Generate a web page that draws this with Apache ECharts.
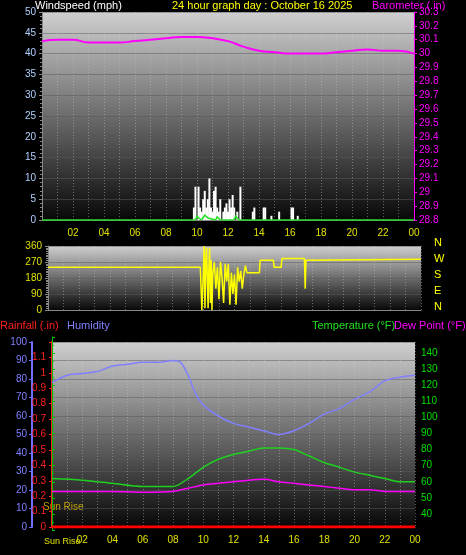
<!DOCTYPE html><html><head><meta charset="utf-8">
<script src="https://cdn.jsdelivr.net/npm/echarts@6/dist/echarts.min.js"></script>
<style>body{margin:0;background:#000}#c{width:466px;height:555px}</style></head><body><div id="c"></div>
<script>
const baroT=[0,1,2,3,4,5,6,7,8,9,10,11,12,13,14,15,16,17,18,19,20,21,22,23,24];
const baroV=[30.09,30.1,30.1,30.08,30.08,30.08,30.09,30.1,30.11,30.12,30.12,30.11,30.09,30.05,30.02,30.01,30.0,30.0,30.0,30.01,30.02,30.03,30.02,30.02,30.0];
const gustT=[9.8,9.9,10.1,10.2,10.3,10.4,10.5,10.6,10.7,10.8,10.9,11.0,11.1,11.2,11.3,11.4,11.5,11.7,11.8,11.9,12.0,12.1,12.2,12.3,12.4,12.6,12.8,13.6,13.7,14.3,14.4,14.8,15.3,16.1,16.2,16.5];
const gustV=[3,8,8,3,2,5,7,3,5,10,3,2,7,8,3,2,5,2,3,4,2,5,3,6,3,2,8,2,3,3,3,1,2,3,3,1];
const avgT=[0,9.9,10.0,10.1,10.3,10.5,10.7,10.9,11.2,11.3,11.5,11.7,12.4,12.5,12.7,12.9,16.2,16.3,16.4,24];
const avgV=[0,0,1,0.5,0,1.2,0.5,0.3,0,0.8,0,0,0,1,0,0,0,0.3,0,0];
const dirT=[0,9.8,9.85,9.9,10.0,10.05,10.1,10.15,10.2,10.3,10.35,10.4,10.45,10.5,10.55,10.6,10.7,10.8,10.9,11.0,11.1,11.2,11.3,11.4,11.5,11.6,11.7,11.8,11.9,12.0,12.1,12.2,12.3,12.4,12.5,12.6,12.7,12.8,12.9,13.0,13.4,13.6,13.65,14.0,14.5,14.55,15.0,15.05,16.5,16.55,16.6,16.65,24];
const dirV=[240,240,250,0,220,360,10,250,350,10,230,350,40,280,0,200,270,120,240,60,270,180,40,260,160,260,30,210,90,200,30,240,160,220,120,200,250,210,220,210,210,210,280,280,280,240,240,290,290,120,280,285,285];
const humT=[0,1,2,3,4,5,6,7,8,8.5,9,9.5,10,11,12,13,14,15,16,17,18,19,20,21,22,23,24];
const humV=[78,82,83,84,87,88,89,89,90,89,82,72,66,60,56,54,52,50,52,56,61,64,69,73,79,81,82];
const tmpT=[0,2,4,6,7,8,9,10,11,12,13,14,15,16,17,18,19,20,21,22,23,24];
const tmpV=[62,61,59,57,57,57,62,69,74,77,79,81,81,80,76,72,69,66,64,62,60,60];
const dewT=[0,2,4,6,8,9,10,11,12,13,14,15,16,17,18,19,20,21,22,23,24];
const dewV=[54,54,54,53.5,54,56,58,59,60,61,61.5,60,59,58,57,56,55,55,54,54,54];
const rainT=[0,24];const rainV=[0,0];
const title='24 hour graph day : October 16 2025';
const z=(a,b)=>a.map((t,i)=>[t,b[i]]);
const F='Liberation Sans';
const bg={type:'linear',x:0,y:0,x2:0,y2:1,colorStops:[{offset:0,color:'#cfcfcf'},{offset:1,color:'#080808'}]};
const dots={show:true,lineStyle:{color:'rgba(200,200,200,0.45)',type:[1,2]}};
function xa(g,show){return {type:'value',gridIndex:g,min:0,max:24,interval:1,axisLine:{show:true,lineStyle:{color:'#888'}},axisTick:{show:false},splitLine:dots,
 axisLabel:{show:show,color:'#e0e000',fontSize:10,fontFamily:F,margin:8,formatter:v=>(v%2===0&&v>0)?(v===24?'00':String(v).padStart(2,'0')):''}};}
const c=echarts.init(document.getElementById('c'));
c.setOption({backgroundColor:'#000',animation:false,
grid:[{left:42,right:52,top:12,bottom:335,backgroundColor:bg,show:true,borderWidth:0},
 {left:48,right:45,top:246,bottom:245,show:true,backgroundColor:bg,borderWidth:0},
 {left:52,right:51,top:342,bottom:28,show:true,backgroundColor:bg,borderWidth:0},
 {left:52,right:51,top:337,bottom:25}],
xAxis:[xa(0,true),xa(1,false),xa(2,true),Object.assign(xa(3,false),{splitLine:{show:false},axisLine:{show:false}})],
yAxis:[
 {gridIndex:0,position:'left',min:0,max:50,interval:5,axisLine:{show:true,lineStyle:{color:'#888'}},axisTick:{show:true,length:3},minorTick:{show:true,splitNumber:5,length:2,lineStyle:{color:'#888'}},splitLine:{show:true,lineStyle:{color:'rgba(90,90,90,0.5)'}},axisLabel:{color:'#b0d0ff',fontSize:10,fontFamily:F,margin:6}},
 {gridIndex:0,position:'right',min:28.8,max:30.3,interval:0.1,axisLine:{show:true,lineStyle:{color:'#ff00ff'}},axisTick:{show:true,length:3},splitLine:{show:false},axisLabel:{color:'#ff00ff',fontSize:10,fontFamily:F,margin:5,formatter:v=>+v.toFixed(1)+''}},
 {gridIndex:1,position:'left',min:0,max:360,interval:90,axisLine:{show:true,lineStyle:{color:'#888'}},axisTick:{show:true,length:3},minorTick:{show:true,splitNumber:9,length:2},splitLine:{show:true,lineStyle:{color:'rgba(90,90,90,0.5)'}},axisLabel:{color:'#e0e000',fontSize:10,fontFamily:F,margin:6}},
 {gridIndex:2,position:'left',min:0,max:1.2,interval:0.1,axisLine:{show:true,lineStyle:{color:'#ff2020',width:2}},axisTick:{show:true,length:3,lineStyle:{color:'#ff2020'}},splitLine:{show:false},axisLabel:{color:'#ff2020',fontSize:10,fontFamily:F,margin:6,formatter:v=>v===1.2?'':(+v.toFixed(1)+'')}},
 {gridIndex:2,position:'left',min:0,max:100,interval:10,offset:20,axisLine:{show:true,lineStyle:{color:'#7070ff',width:2}},axisTick:{show:true,length:3},splitLine:{show:true,lineStyle:{color:'rgba(90,90,90,0.5)'}},axisLabel:{color:'#8080ff',fontSize:10,fontFamily:F,margin:5}},
 {gridIndex:3,position:'right',min:30,max:150,interval:10,axisLine:{show:true,lineStyle:{color:'#00c000'}},axisTick:{show:true,length:3},minorTick:{show:true,splitNumber:2,length:2},splitLine:{show:false},axisLabel:{color:'#00e000',fontSize:10,fontFamily:F,margin:6,formatter:v=>(v<40||v>140)?'':v}}
],
series:[
 {type:'line',xAxisIndex:0,yAxisIndex:1,data:z(baroT,baroV),smooth:true,symbol:'none',lineStyle:{color:'#ff00ff',width:2}},
 {type:'bar',xAxisIndex:0,yAxisIndex:0,data:z(gustT,gustV),barWidth:2,itemStyle:{color:'#ffffff'}},
 {type:'line',xAxisIndex:0,yAxisIndex:0,data:z(avgT,avgV),symbol:'none',lineStyle:{color:'#20e020',width:1.5}},
 {type:'line',xAxisIndex:1,yAxisIndex:2,data:z(dirT,dirV),symbol:'none',lineStyle:{color:'#ffff00',width:1.5}},
 {type:'line',xAxisIndex:2,yAxisIndex:4,data:z(humT,humV),symbol:'none',smooth:0.3,lineStyle:{color:'#8080ff',width:1.5}},
 {type:'line',xAxisIndex:3,yAxisIndex:5,data:z(tmpT,tmpV),symbol:'none',smooth:0.3,lineStyle:{color:'#20d020',width:1.5}},
 {type:'line',xAxisIndex:3,yAxisIndex:5,data:z(dewT,dewV),symbol:'none',smooth:0.3,lineStyle:{color:'#ff00ff',width:1.5}},
 {type:'line',xAxisIndex:2,yAxisIndex:3,data:z(rainT,rainV),symbol:'none',lineStyle:{color:'#ff0000',width:3},
  markLine:{symbol:'none',silent:true,label:{show:false},lineStyle:{color:'#c0a000',type:'solid',width:1.5},data:[[{coord:[0.75,0.09]},{coord:[0.75,-0.03]}],[{coord:[12.9,0.09]},{coord:[12.9,-0.03]}]]}}
],
graphic:[
 {type:'text',left:35,top:0,style:{text:'Windspeed (mph)',fill:'#fff',font:'11px '+F}},
 {type:'text',left:172,top:0,style:{text:title,fill:'#ffff00',font:'11px '+F}},
 {type:'text',left:372,top:0,style:{text:'Barometer (.in)',fill:'#ff00ff',font:'11px '+F}},
 {type:'text',left:434,top:237,style:{text:'N\n\nW\n\nS\n\nE\n\nN',fill:'#ffff00',font:'11px '+F,lineHeight:8}},
 {type:'text',left:0,top:320,style:{text:'Rainfall (.in)',fill:'#ff2020',font:'11px '+F}},
 {type:'text',left:67,top:320,style:{text:'Humidity',fill:'#8080ff',font:'11px '+F}},
 {type:'text',left:312,top:320,style:{text:'Temperature (°F)',fill:'#20e020',font:'11px '+F}},
 {type:'text',left:394,top:320,style:{text:'Dew Point (°F)',fill:'#ff00ff',font:'11px '+F}},
 {type:'text',left:43,top:502,style:{text:'Sun Rise',fill:'#c0a000',font:'10px '+F}},
 {type:'text',left:44,top:537,style:{text:'Sun Rise',fill:'#e0e000',font:'9px '+F}}
]});
</script></body></html>
